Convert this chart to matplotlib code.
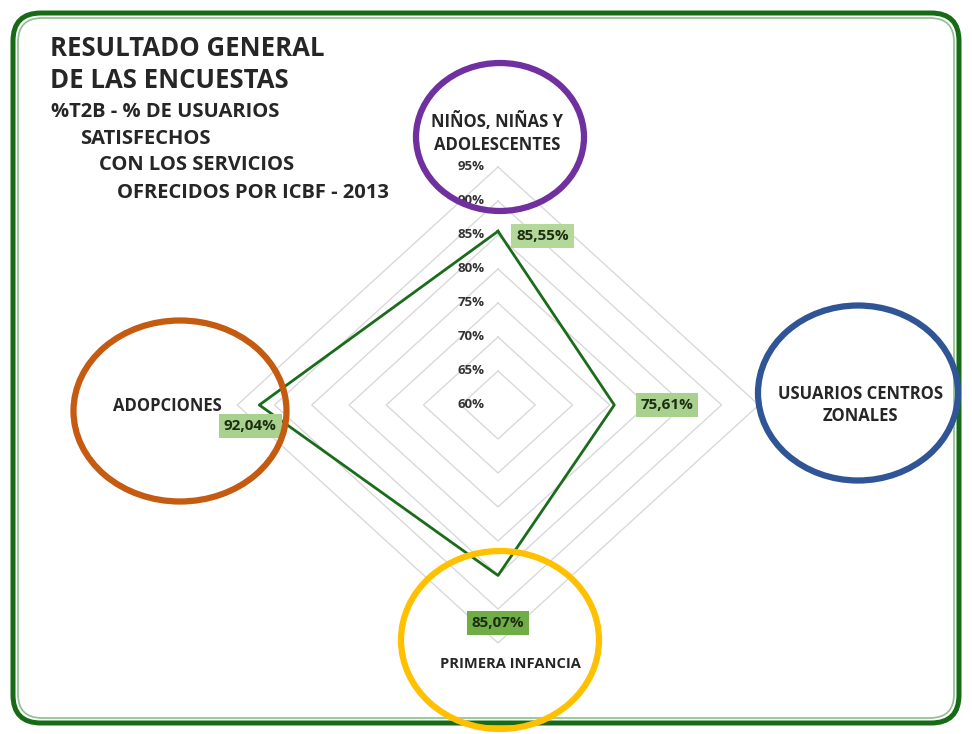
import numpy as np
import matplotlib.pyplot as plt
from matplotlib.patches import Ellipse, FancyBboxPatch

# survey results, %T2B per service line
categorias = ['NIÑOS, NIÑAS Y\nADOLESCENTES', 'USUARIOS CENTROS\nZONALES',
              'PRIMERA INFANCIA', 'ADOPCIONES']
valores = [85.55, 75.61, 85.07, 92.04]
etiquetas = ['85,55%', '75,61%', '85,07%', '92,04%']
anillos = [60, 65, 70, 75, 80, 85, 90, 95]
r_min = 60

plt.rcParams['font.family'] = ['Open Sans', 'DejaVu Sans']
W, H = 972, 734
fig = plt.figure(figsize=(W / 100, H / 100), dpi=100)

# background axes in pixel units (frame and title)
bg = fig.add_axes([0, 0, 1, 1])
bg.set_xlim(0, W)
bg.set_ylim(H, 0)
bg.axis('off')

bg.add_patch(FancyBboxPatch((13, 13), W - 26, H - 24, boxstyle='round,pad=0,rounding_size=28',
                            fc='white', ec='#176b17', lw=3.6))
bg.add_patch(FancyBboxPatch((18, 18), W - 36, H - 34, boxstyle='round,pad=0,rounding_size=24',
                            fc='none', ec='#8cc08c', lw=1.2))

tc = '#262626'
bg.text(50, 48, 'RESULTADO GENERAL', fontsize=18.5, fontweight='bold', color=tc, va='center')
bg.text(50, 81, 'DE LAS ENCUESTAS', fontsize=18.5, fontweight='bold', color=tc, va='center')
bg.text(51, 112, '%T2B - % DE USUARIOS', fontsize=14.5, fontweight='bold', color=tc, va='center')
bg.text(80, 139, 'SATISFECHOS', fontsize=14.5, fontweight='bold', color=tc, va='center')
bg.text(99, 165, 'CON LOS SERVICIOS', fontsize=14.5, fontweight='bold', color=tc, va='center')
bg.text(117, 193, 'OFRECIDOS POR ICBF - 2013', fontsize=14.5, fontweight='bold', color=tc, va='center')

# radar axes: one data unit = one percentage point from the 60% centre
ax = fig.add_axes([200 / W, 1 - 677 / H, 596 / W, 544 / H])
ax.set_xlim(-40, 40)
ax.set_ylim(-40, 40)
ax.axis('off')
ax.patch.set_alpha(0)

ang = np.deg2rad([90, 0, 270, 180])
for r in anillos[1:]:
    rr = r - r_min
    xs = np.append(rr * np.cos(ang), rr * np.cos(ang[0]))
    ys = np.append(rr * np.sin(ang), rr * np.sin(ang[0]))
    ax.plot(xs, ys, color='#d9d9d9', lw=1, zorder=1)

for r in anillos:
    ax.text(-1.8, r - r_min, f'{r}%', ha='right', va='center', fontsize=9.5,
            fontweight='bold', color='#333333', zorder=2)

rv = np.array(valores) - r_min
px = rv * np.cos(ang)
py = rv * np.sin(ang)
ax.plot(np.append(px, px[0]), np.append(py, py[0]), color='#1a6b1a', lw=2, zorder=3)

offs = [(32, -3.5), (38, 0), (0, -34), (-6.5, -15)]
fondos = ['#b4d79a', '#a9d18e', '#70ad47', '#a9d18e']
for x, y, t, o, f in zip(px, py, etiquetas, offs, fondos):
    ax.annotate(t, (x, y), xytext=o, textcoords='offset points', ha='center', va='center',
                fontsize=11, fontweight='bold', color='#1c2e12', zorder=4,
                bbox=dict(boxstyle='square,pad=0.32', fc=f, ec='none'))

# overlay with the category ellipses
ov = fig.add_axes([0, 0, 1, 1])
ov.set_xlim(0, W)
ov.set_ylim(H, 0)
ov.axis('off')
ov.patch.set_alpha(0)

elipses = [((500, 137), 168, 148, '#7030a0'),
           ((858, 393), 200, 175, '#2f5597'),
           ((500, 640), 198, 178, '#ffc000'),
           ((180, 411), 213, 181, '#c55a11')]
pos_texto = [(497, 133), (860, 405), (510, 664), (167, 406)]
tamanos = [12, 12, 10.5, 12]
for (c, w, h, col), lab, (tx, ty), fs in zip(elipses, categorias, pos_texto, tamanos):
    ov.add_patch(Ellipse(c, w, h, fc='none', ec=col, lw=4.5))
    ov.text(tx, ty, lab, ha='center', va='center', fontsize=fs, fontweight='bold',
            color=tc, linespacing=1.35)

fig.savefig('out.png', dpi=100)
